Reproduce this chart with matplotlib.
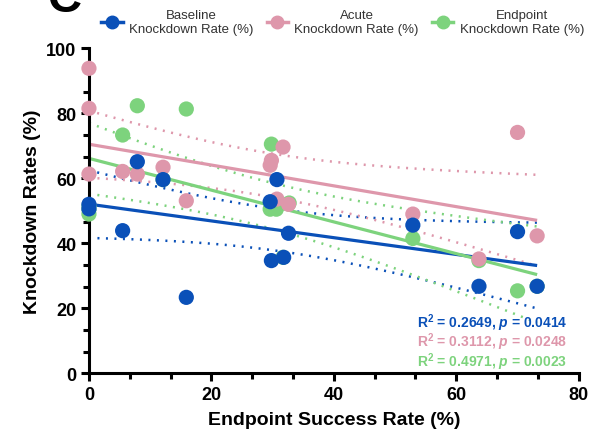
import numpy as np
import matplotlib
matplotlib.use("Agg")
import matplotlib.pyplot as plt
from matplotlib.lines import Line2D

plt.rcParams["font.family"] = ["Liberation Sans", "DejaVu Sans"]
plt.rcParams["mathtext.fontset"] = "custom"
plt.rcParams["mathtext.rm"] = "Liberation Sans:bold"
plt.rcParams["mathtext.it"] = "Liberation Sans:italic:bold"

# values (a few endpoint points sit hidden under other markers)
baseline_x = [0, 0, 5.5, 7.9, 12.1, 15.9, 29.6, 29.8, 30.7, 31.8, 32.6, 52.9, 63.7, 70.0, 73.2]
baseline_y = [52.0, 50.6, 43.9, 65.1, 59.6, 23.4, 52.8, 34.7, 59.6, 35.7, 43.1, 45.6, 26.8, 43.6, 26.8]

acute_x = [0, 0, 0, 5.5, 7.9, 12.1, 15.9, 29.6, 29.8, 30.7, 31.7, 32.6, 52.9, 63.7, 70.0, 73.2]
acute_y = [93.8, 81.5, 61.3, 62.1, 61.3, 63.4, 53.1, 64.0, 65.5, 53.6, 69.6, 52.0, 49.0, 35.2, 74.1, 42.3]

endpoint_x = [0, 0, 0, 5.5, 7.9, 12.1, 15.9, 29.8, 29.6, 30.6, 31.7, 32.7, 52.9, 63.7, 70.0, 73.2]
endpoint_y = [49.0, 50.5, 51.5, 73.3, 82.3, 59.6, 81.3, 70.5, 50.5, 50.5, 35.7, 52.4, 41.5, 34.7, 25.4, 26.8]

series_names = ["Baseline\nKnockdown Rate (%)", "Acute\nKnockdown Rate (%)", "Endpoint\nKnockdown Rate (%)"]
colors = ["#0a50b8", "#de97ab", "#7dd37d"]
stats_text = [r"R$^2$ = 0.2649, $p$ = 0.0414",
              r"R$^2$ = 0.3112, $p$ = 0.0248",
              r"R$^2$ = 0.4971, $p$ = 0.0023"]

# two-sided 95% t quantiles by degrees of freedom
T95 = {10: 2.228, 11: 2.201, 12: 2.179, 13: 2.160, 14: 2.145, 15: 2.131}


def fit_with_band(x, y):
    x = np.asarray(x, float)
    y = np.asarray(y, float)
    n = len(x)
    slope, icpt = np.polyfit(x, y, 1)
    resid = y - (icpt + slope * x)
    s = np.sqrt(np.sum(resid ** 2) / (n - 2))
    sxx = np.sum((x - x.mean()) ** 2)
    xs = np.linspace(x.min(), x.max(), 100)
    ys = icpt + slope * xs
    half = T95[n - 2] * s * np.sqrt(1 / n + (xs - x.mean()) ** 2 / sxx)
    return xs, ys, ys - half, ys + half


fig = plt.figure(figsize=(5.93, 4.39), dpi=100)
ax = fig.add_axes([0.150, 0.147, 0.826, 0.741])

data = [(baseline_x, baseline_y), (acute_x, acute_y), (endpoint_x, endpoint_y)]

for (x, y), c in zip(data, colors):
    xs, ys, lo, hi = fit_with_band(x, y)
    ax.plot(xs, ys, color=c, lw=2.3, zorder=2, solid_capstyle="butt")
    ax.plot(xs, lo, color=c, lw=1.8, ls=(0, (0.8, 2.6)), zorder=1)
    ax.plot(xs, hi, color=c, lw=1.8, ls=(0, (0.8, 2.6)), zorder=1)

# endpoint underneath, baseline on top
for i in [2, 1, 0]:
    x, y = data[i]
    ax.scatter(x, y, s=120, color=colors[i], edgecolors="none", zorder=3 + (2 - i), clip_on=False)

ax.set_xlim(0, 80)
ax.set_ylim(0, 100)
ax.set_xticks([0, 20, 40, 60, 80])
ax.set_yticks([0, 20, 40, 60, 80, 100])
ax.set_xticks(np.arange(0, 80.1, 20 / 3), minor=True)
ax.set_yticks(np.arange(0, 100.1, 20 / 3), minor=True)

for side in ["top", "right"]:
    ax.spines[side].set_visible(False)
for side in ["left", "bottom"]:
    ax.spines[side].set_linewidth(2.2)
ax.tick_params(which="major", length=6, width=2.2, labelsize=13, pad=3)
ax.tick_params(which="minor", length=4, width=2.2)
for lab in ax.get_xticklabels() + ax.get_yticklabels():
    lab.set_fontweight("bold")

ax.set_xlabel("Endpoint Success Rate (%)", fontsize=14, fontweight="bold", labelpad=6)
ax.set_ylabel("Knockdown Rates (%)", fontsize=14, fontweight="bold", labelpad=4)

for i, t in enumerate(stats_text):
    ax.text(0.977, 0.159 - i * 0.061, t, transform=ax.transAxes, ha="right", va="center",
            fontsize=10, fontweight="bold", color=colors[i])

handles = [Line2D([], [], color=c, marker="o", markersize=9, lw=2.5) for c in colors]
leg = fig.legend(handles, series_names, loc="center", bbox_to_anchor=(0.578, 0.947), ncol=3,
                 frameon=False, fontsize=9.5, handlelength=1.6, handletextpad=0.5,
                 columnspacing=1.0)
for t in leg.get_texts():
    t.set_multialignment("center")
    t.set_color("#333333")

# panel letter, cut off at the top edge
fig.text(0.08, 1.0, "C", fontsize=34, fontweight="bold", ha="left", va="center")

fig.savefig("out.png", dpi=100)
